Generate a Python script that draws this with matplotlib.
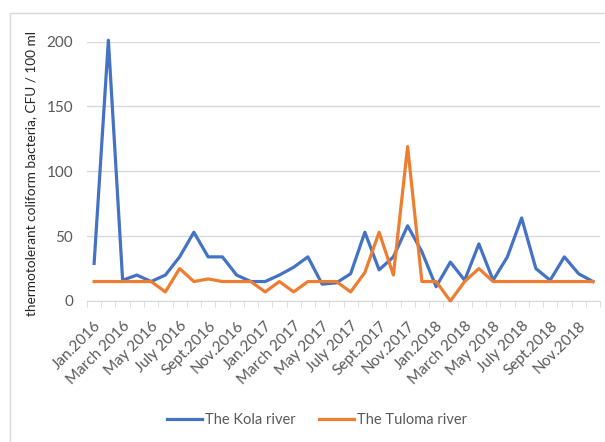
import matplotlib
matplotlib.use("Agg")
import matplotlib.pyplot as plt
import matplotlib.patches as mpatches
import numpy as np

plt.rcParams["font.family"] = ["Lato", "DejaVu Sans"]

# Monthly samples, Jan 2016 - Dec 2018
months = [
    "Jan.2016", "Feb.2016", "March 2016", "Apr.2016", "May 2016", "June 2016",
    "July 2016", "Aug.2016", "Sept.2016", "Oct.2016", "Nov.2016", "Dec.2016",
    "Jan.2017", "Feb.2017", "March 2017", "Apr.2017", "May 2017", "June 2017",
    "July 2017", "Aug.2017", "Sept.2017", "Oct.2017", "Nov.2017", "Dec.2017",
    "Jan.2018", "Feb.2018", "March 2018", "Apr.2018", "May 2018", "June 2018",
    "July 2018", "Aug.2018", "Sept.2018", "Oct.2018", "Nov.2018", "Dec.2018",
]

kola = [29, 201, 16, 20, 15, 20, 34, 53, 34, 34, 20, 15,
        15, 20, 26, 34, 13, 14, 21, 53, 24, 34, 58, 38,
        11, 30, 16, 44, 16, 34, 64, 25, 16, 34, 21, 15]
tuloma = [15, 15, 15, 15, 15, 7, 25, 15, 17, 15, 15, 15,
          7, 15, 7, 15, 15, 15, 7, 22, 53, 20, 119, 15,
          15, 0, 15, 25, 15, 15, 15, 15, 15, 15, 15, 15]

BLUE = "#4472C4"
ORANGE = "#ED7D31"
GRAY = "#595959"

fig = plt.figure(figsize=(6.05, 4.42), dpi=100)
ax = fig.add_axes([87 / 605, 1 - 301 / 442, 513 / 605, 259.5 / 442])

x = np.arange(len(months))
ax.plot(x, kola, color=BLUE, linewidth=2.3, label="The Kola river",
        clip_on=False, solid_joinstyle="round", zorder=3)
ax.plot(x, tuloma, color=ORANGE, linewidth=2.3, label="The Tuloma river",
        clip_on=False, solid_joinstyle="round", zorder=3)

ax.set_xlim(-0.5, len(months) - 0.5)
ax.set_ylim(0, 200)
ax.set_yticks([0, 50, 100, 150, 200])
ax.yaxis.grid(True, color="#d9d9d9", linewidth=1)
ax.set_axisbelow(True)
ax.tick_params(axis="y", length=0, labelsize=11, labelcolor=GRAY, pad=10)

# every second month labelled, tick marks on category boundaries
ax.set_xticks(x[::2])
ax.set_xticklabels(months[::2], rotation=45, ha="right", va="top",
                   rotation_mode="anchor", fontsize=11, color=GRAY)
ax.set_xticks(np.arange(-0.5, len(months)), minor=True)
ax.tick_params(axis="x", which="major", length=0, pad=13)
ax.tick_params(axis="x", which="minor", length=4, color="#d9d9d9")

for side in ["top", "right", "left"]:
    ax.spines[side].set_visible(False)
ax.spines["bottom"].set_color("#d9d9d9")

ax.set_ylabel("thermotolerant coliform bacteria, CFU / 100 ml",
              fontsize=9.8, color="#262626")
ax.yaxis.set_label_coords(-0.097, 0.49)

fig.legend(loc="center", bbox_to_anchor=(317 / 605, 1 - 420 / 442),
           ncol=2, frameon=False, fontsize=10.5, labelcolor=GRAY,
           handlelength=2.4, columnspacing=1.6, handletextpad=0.2)

# chart area frame
fig.patches.append(mpatches.Rectangle((10 / 605, -0.2), 1.2, 1.2 - 13 / 442,
                                      transform=fig.transFigure, fill=False,
                                      edgecolor="#d9d9d9", linewidth=1))

fig.savefig("out.png", dpi=100)
